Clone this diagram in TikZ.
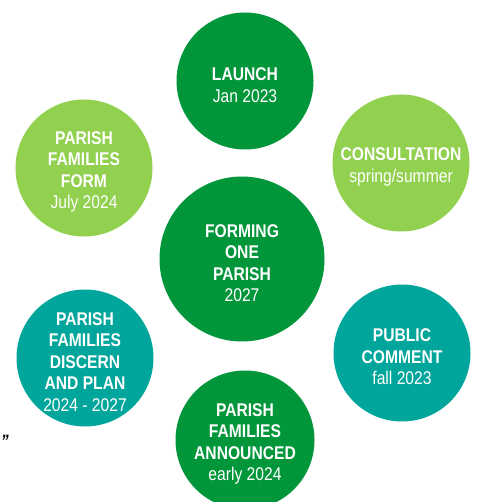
\documentclass[tikz,border=0pt]{standalone}
\usepackage{fontspec}
\setmainfont{Liberation Sans}[FakeStretch=0.85]
\definecolor{darkgreen}{RGB}{0,150,57}
\definecolor{lightgreen}{RGB}{146,208,80}
\definecolor{teal}{RGB}{0,166,155}

\begin{document}
\begin{tikzpicture}[x=1pt, y=-1pt,
	stage/.style={circle, inner sep=0pt, minimum size=137pt},
	stagetext/.style={inner sep=0pt, yshift=-4pt, text=white, align=center, font=\fontsize{18.4}{21.5}\selectfont}]
		\useasboundingbox (0, 0) rectangle (476, 502);
		\clip (0, 0) rectangle (476, 502);

		\node[stage, fill=darkgreen] (launch) at (245, 81) {};
		\node[stagetext] (launch text) at (launch) {\textbf{LAUNCH}\\Jan 2023};

		\node[stage, fill=lightgreen] (consult) at (401, 163) {};
		\node[stagetext] (consult text) at (consult) {\textbf{CONSULTATION}\\spring/summer};

		\node[stage, fill=teal] (comment) at (402, 353) {};
		\node[stagetext] (comment text) at (comment) {\textbf{PUBLIC}\\\textbf{COMMENT}\\fall 2023};

		\node[stage, fill=darkgreen, minimum size=139pt] (announced) at (245, 440) {};
		\node[stagetext] (announced text) at (announced) {\textbf{PARISH}\\\textbf{FAMILIES}\\\textbf{ANNOUNCED}\\early 2024};

		\node[stage, fill=teal] (discern) at (85, 358) {};
		\node[stagetext] (discern text) at (discern) {\textbf{PARISH}\\\textbf{FAMILIES}\\\textbf{DISCERN}\\\textbf{AND PLAN}\\2024 - 2027};

		\node[stage, fill=lightgreen] (form) at (84, 168) {};
		\node[stagetext] (form text) at (form) {\textbf{PARISH}\\\textbf{FAMILIES}\\\textbf{FORM}\\July 2024};

		\node[stage, fill=darkgreen, minimum size=165pt] (one) at (242, 259) {};
		\node[stagetext] (one text) at (one) {\textbf{FORMING}\\\textbf{ONE}\\\textbf{PARISH}\\2027};

		\node[inner sep=0pt, font=\fontsize{18}{18}\selectfont\bfseries\itshape] (quote) at (5, 441) {”};
	\end{tikzpicture}
\end{document}
